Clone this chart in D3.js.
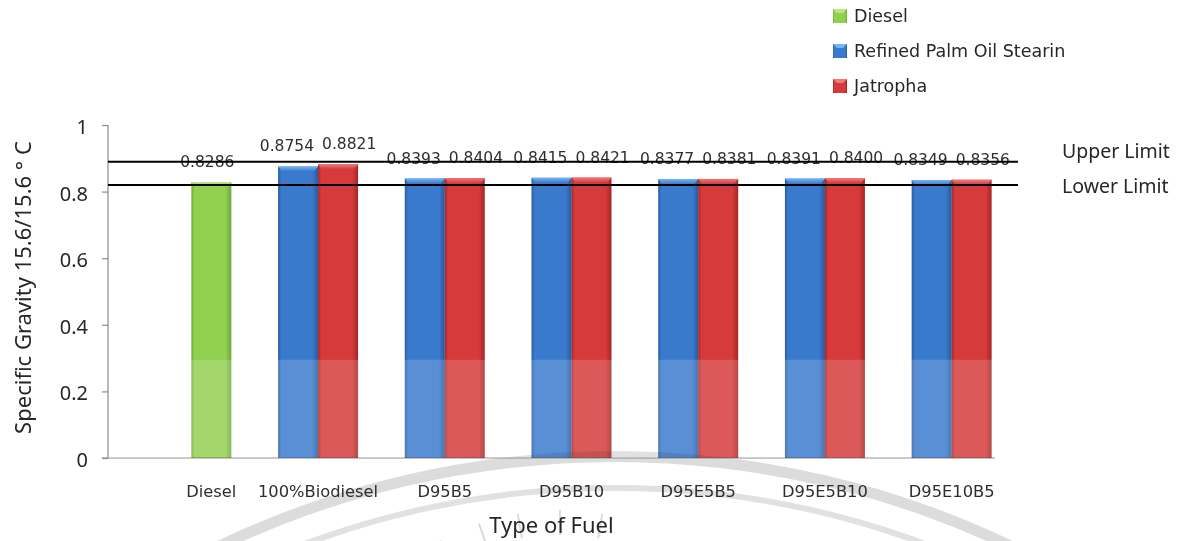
<!DOCTYPE html>
<html>
<head>
<meta charset="utf-8">
<script src="https://cdn.jsdelivr.net/npm/d3@7"></script>
<style>
  html, body { margin: 0; padding: 0; background: #fff; }
  svg { display: block; }
</style>
</head>
<body>
<svg id="chart" width="1192" height="541"></svg>
<script>
// Fuel types along the x axis
const categories = ["Diesel", "100%Biodiesel", "D95B5", "D95B10", "D95E5B5", "D95E5B10", "D95E10B5"];

// Specific gravity (15.6/15.6 °C) per fuel type; null = no bar
const dieselValues      = [0.8286, null, null, null, null, null, null];
const palmStearinValues = [null, 0.8754, 0.8393, 0.8415, 0.8377, 0.8391, 0.8349];
const jatrophaValues    = [null, 0.8821, 0.8404, 0.8421, 0.8381, 0.8400, 0.8356];

const seriesNames = ["Diesel", "Refined Palm Oil Stearin", "Jatropha"];
const yTicks = [0, 0.2, 0.4, 0.6, 0.8, 1];
const yTickLabels = ["0", "0.2", "0.4", "0.6", "0.8", "1"];

// Specification limits
const limitLabels = ["Upper Limit", "Lower Limit"];
const limitValues = [0.89, 0.82];

const series = [
  { name: seriesNames[0], values: dieselValues,      slot: 2, base: "#92d050", dark: "#6fa83a", light: "#b8e68a", key: "g" },
  { name: seriesNames[1], values: palmStearinValues, slot: 1, base: "#3a7acd", dark: "#2a5aa0", light: "#7ab4f0", key: "b" },
  { name: seriesNames[2], values: jatrophaValues,    slot: 2, base: "#d63a3a", dark: "#a52626", light: "#f07a7a", key: "r" }
];

const svg = d3.select("#chart");
const margin = { left: 108, right: 197, top: 125, bottom: 83 };
const W = 1192, H = 541;
const plotL = margin.left, plotR = W - margin.right, plotT = margin.top, plotB = H - margin.bottom;

const x0 = d3.scaleBand().domain(categories).range([plotL, plotR]).padding(0);
const x1 = d3.scaleBand().domain([0, 1, 2]).range([0, x0.bandwidth()]).paddingInner(0).paddingOuter(0.084);
const y = d3.scaleLinear().domain([0, 1]).range([plotB, plotT]);

// gradients for the bevelled bar look
const defs = svg.append("defs");
series.forEach(s => {
  const g = defs.append("linearGradient").attr("id", "grad-" + s.key)
    .attr("x1", "0%").attr("x2", "100%").attr("y1", "0%").attr("y2", "0%");
  g.append("stop").attr("offset", "0%").attr("stop-color", s.dark);
  g.append("stop").attr("offset", "8%").attr("stop-color", s.base);
  g.append("stop").attr("offset", "85%").attr("stop-color", s.base);
  g.append("stop").attr("offset", "100%").attr("stop-color", s.dark);
  const c = defs.append("linearGradient").attr("id", "cap-" + s.key)
    .attr("x1", "0%").attr("x2", "0%").attr("y1", "0%").attr("y2", "100%");
  c.append("stop").attr("offset", "0%").attr("stop-color", s.light);
  c.append("stop").attr("offset", "100%").attr("stop-color", s.base);
});

// faint seal in the background
const seal = svg.append("g").attr("fill", "none").attr("stroke", "#d2d2d2").attr("opacity", 0.8);
const arc = d3.arc();
seal.append("path").attr("transform", "translate(615,1375)")
  .attr("d", arc({ innerRadius: 913, outerRadius: 924, startAngle: -0.46, endAngle: 0.46 }))
  .attr("fill", "#d4d4d4").attr("stroke", "none");
seal.append("path").attr("transform", "translate(615,1375)")
  .attr("d", arc({ innerRadius: 884, outerRadius: 890, startAngle: -0.44, endAngle: 0.44 }))
  .attr("fill", "#dadada").attr("stroke", "none");
[-0.5, -0.33, -0.17, 0, 0.17].forEach(a => {
  const cx = 560, cy = 760, r0 = 225, r1 = 250;
  seal.append("line")
    .attr("x1", cx + r0 * Math.sin(a)).attr("y1", cy - r0 * Math.cos(a))
    .attr("x2", cx + r1 * Math.sin(a)).attr("y2", cy - r1 * Math.cos(a))
    .attr("stroke-width", 2);
});

// axes
const axisColor = "#8c8c8c";
svg.append("line").attr("x1", plotL).attr("x2", plotL).attr("y1", y(1)).attr("y2", y(0))
  .attr("stroke", axisColor).attr("stroke-width", 1.2);
svg.append("line").attr("x1", plotL - 6).attr("x2", plotR).attr("y1", y(0)).attr("y2", y(0))
  .attr("stroke", axisColor).attr("stroke-width", 1.2);

const yAxis = d3.axisLeft(y).tickValues(yTicks).tickSize(6).tickPadding(14)
  .tickFormat((d, i) => yTickLabels[i]);
const yg = svg.append("g").attr("transform", `translate(${plotL},0)`).call(yAxis);
yg.select(".domain").remove();
yg.selectAll(".tick line").attr("stroke", axisColor).attr("stroke-width", 1.2);
yg.selectAll(".tick text").attr("font-family", "Noto Sans, sans-serif").attr("font-size", 20)
  .attr("fill", "#262626").attr("dy", "0.42em");

// bars
const barData = [];
series.forEach(s => {
  s.values.forEach((v, i) => {
    if (v == null) return;
    barData.push({ s, cat: categories[i], value: v, x: x0(categories[i]) + x1(s.slot), w: x1.bandwidth() });
  });
});

const bars = svg.append("g").selectAll("g").data(barData).join("g")
  .style("mix-blend-mode", "multiply");
bars.append("rect")
  .attr("x", d => d.x).attr("width", d => d.w)
  .attr("y", d => y(d.value)).attr("height", d => y(0) - y(d.value))
  .attr("fill", d => `url(#grad-${d.s.key})`);
bars.append("path")
  .attr("d", d => {
    const t = y(d.value), l = d.x, r = d.x + d.w;
    return `M${l},${t}L${r},${t}L${r - 4},${t + 5}L${l + 4},${t + 5}Z`;
  })
  .attr("fill", d => `url(#cap-${d.s.key})`);

// lighter band over the lower part of the bars
svg.append("rect").attr("x", plotL + 1).attr("width", plotR - plotL)
  .attr("y", y(0.295)).attr("height", y(0) - y(0.295))
  .attr("fill", "#ffffff").attr("opacity", 0.16);

// value labels
svg.append("g").selectAll("text").data(barData).join("text")
  .attr("x", d => {
    if (d.s.name === "Diesel") return d.x + d.w / 2 - 4;
    if (d.s.name === "Jatropha") return d.x + 4;
    return d.x + d.w - 4;
  })
  .attr("y", d => y(d.value) - 15)
  .attr("text-anchor", d => d.s.name === "Diesel" ? "middle" : (d.s.name === "Jatropha" ? "start" : "end"))
  .attr("font-family", "DejaVu Sans, sans-serif").attr("font-size", 15.5)
  .attr("fill", "#2e2e2e")
  .text(d => d.value.toFixed(4));

// category labels centred under each group's bars
svg.append("g").selectAll("text").data(categories).join("text")
  .attr("x", c => {
    const bs = barData.filter(d => d.cat === c);
    return d3.mean(bs, d => d.x + d.w / 2);
  })
  .attr("y", y(0) + 39)
  .attr("text-anchor", "middle")
  .attr("font-family", "DejaVu Sans, sans-serif").attr("font-size", 16.3)
  .attr("fill", "#2e2e2e")
  .text(c => c);

// specification limit lines
const limitEnd = plotR + 23;
limitValues.forEach((v, i) => {
  svg.append("line").attr("x1", plotL).attr("x2", limitEnd).attr("y1", y(v)).attr("y2", y(v))
    .attr("stroke", "#000").attr("stroke-width", 2);
  svg.append("text").attr("x", limitEnd + 44).attr("y", y(v) + (i === 0 ? -4 : 8))
    .attr("font-family", "Noto Sans, sans-serif").attr("font-size", 19.5)
    .attr("fill", "#262626").text(limitLabels[i]);
});

// axis titles
svg.append("text").attr("x", (plotL + plotR) / 2).attr("y", 533)
  .attr("text-anchor", "middle")
  .attr("font-family", "Noto Sans, sans-serif").attr("font-size", 22)
  .attr("fill", "#262626").text("Type of Fuel");
svg.append("text").attr("transform", `translate(31,${(y(0) + y(1)) / 2 - 4}) rotate(-90)`)
  .attr("text-anchor", "middle")
  .attr("font-family", "Noto Sans, sans-serif").attr("font-size", 22)
  .attr("fill", "#262626").text("Specific Gravity 15.6/15.6 ° C");

// legend
const legend = svg.append("g").attr("transform", "translate(833,9)");
series.forEach((s, i) => {
  const g = legend.append("g").attr("transform", `translate(0,${i * 35})`);
  g.append("rect").attr("width", 14).attr("height", 14).attr("fill", `url(#grad-${s.key})`);
  g.append("path").attr("d", "M0,0L14,0L10,4L4,4Z").attr("fill", s.light);
  g.append("text").attr("x", 21).attr("y", 7).attr("dy", "0.36em")
    .attr("font-family", "DejaVu Sans, sans-serif").attr("font-size", 17.5)
    .attr("fill", "#262626").text(s.name);
});
</script>
</body>
</html>
